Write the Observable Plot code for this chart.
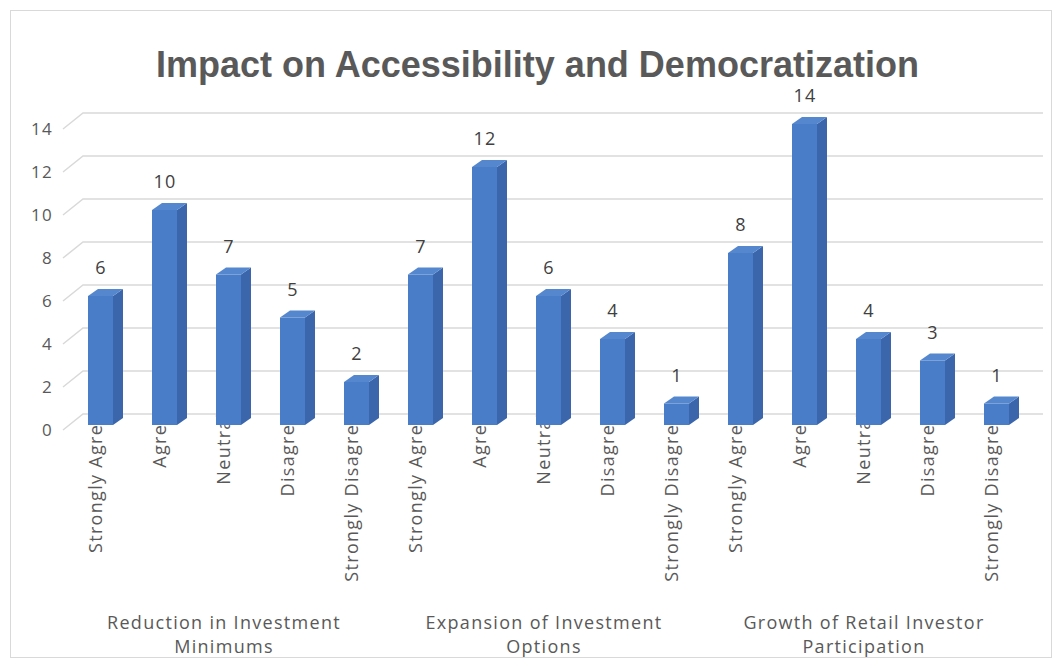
<!DOCTYPE html>
<html>
<head>
<meta charset="utf-8">
<script src="https://cdn.jsdelivr.net/npm/d3@7"></script>
<script src="https://cdn.jsdelivr.net/npm/@observablehq/plot@0.6"></script>
<style>
  html, body { margin: 0; padding: 0; background: #ffffff; }
  #wrap { position: relative; width: 1057px; height: 666px; overflow: hidden; background: #fff; }
  #frame { position: absolute; left: 10px; top: 10px; width: 1042px; height: 648px; border: 1px solid #d9d9d9; box-sizing: border-box; pointer-events: none; }
  #title { position: relative; box-sizing: border-box; height: 92px; padding-top: 47px; padding-left: 18px; text-align: center;
           font-family: "Liberation Sans", Arial, sans-serif; font-weight: bold; font-size: 36px; line-height: 36px; color: #595959; white-space: nowrap; }
  #chart svg { display: block; overflow: visible; }
  #chart svg text { letter-spacing: 1.3px; }
</style>
</head>
<body>
<div id="wrap">
  <div id="frame"></div>
  <div id="title">Impact on Accessibility and Democratization</div>
  <div id="chart"></div>
</div>
<script>
// ---- data ----
const groupNames = ["Reduction in Investment\nMinimums", "Expansion of Investment\nOptions", "Growth of Retail Investor\nParticipation"];
const responses = ["Strongly Agree", "Agree", "Neutral", "Disagree", "Strongly Disagree"];
const reductionValues = [6, 10, 7, 5, 2];
const expansionValues = [7, 12, 6, 4, 1];
const growthValues = [8, 14, 4, 3, 1];
const yTicks = [0, 2, 4, 6, 8, 10, 12, 14];

// ---- table built from arrays ----
const seriesByGroup = [reductionValues, expansionValues, growthValues];
const rows = [];
groupNames.forEach((g, gi) => {
  responses.forEach((r, ri) => {
    rows.push({group: g, response: r, key: gi + "|" + r, value: seriesByGroup[gi][ri]});
  });
});
const keys = rows.map(d => d.key);
const groupRows = groupNames.map((g, gi) => ({group: g, key: gi + "|" + responses[2]}));

// ---- style constants ----
const FRONT = "#4a7dc8", SIDE = "#3b66ab", TOP = "#5587cf";
const BAR_DY = -5;          // front face offset (3D floor)
const DEPTH_X = 10, DEPTH_Y = 7;
const WALL_DX = 20, WALL_DY = 16;

function gridMark(index, scales, values, dimensions) {
  const g = d3.create("svg:g");
  const x0 = dimensions.marginLeft + 7.5;
  const x1 = dimensions.width - dimensions.marginRight + 2.5;
  for (const t of yTicks) {
    const y = scales.y(t);
    g.append("path")
      .attr("d", `M${x0},${y}L${x0 + WALL_DX},${y - WALL_DY}L${x1},${y - WALL_DY}`)
      .attr("fill", "none").attr("stroke", "#d9d9d9").attr("stroke-width", 1.5);
  }
  return g.node();
}

function extrusionMark(index, scales, values, dimensions) {
  const g = d3.create("svg:g");
  const bw = scales.x.bandwidth ? scales.x.bandwidth() : 25;
  for (const d of rows) {
    const xl = scales.x(d.key), xr = xl + bw;
    const yb = scales.y(0) + BAR_DY, yt = scales.y(d.value) + BAR_DY;
    g.append("path")
      .attr("d", `M${xr},${yb}L${xr + DEPTH_X},${yb - DEPTH_Y}L${xr + DEPTH_X},${yt - DEPTH_Y}L${xr},${yt}Z`)
      .attr("fill", SIDE);
    g.append("path")
      .attr("d", `M${xl},${yt}L${xl + DEPTH_X},${yt - DEPTH_Y}L${xr + DEPTH_X},${yt - DEPTH_Y}L${xr},${yt}Z`)
      .attr("fill", TOP);
  }
  return g.node();
}

const chart = Plot.plot({
  width: 1057,
  height: 574,
  marginLeft: 55.5,
  marginRight: 16.5,
  marginTop: 37,
  marginBottom: 236,
  style: {fontFamily: "'Open Sans', sans-serif", background: "transparent", overflow: "visible"},
  x: {domain: keys, paddingInner: 0.61, paddingOuter: 0.5, axis: null},
  y: {domain: [0, 14], axis: null},
  marks: [
    gridMark,
    // y tick labels
    Plot.text(yTicks, {y: d => d, text: d => String(d), frameAnchor: "left", textAnchor: "end", dx: -3, fontSize: 17, fill: "#595959"}),
    // rotated category labels (partly hidden behind bar bottoms)
    Plot.text(rows, {x: "key", y: () => 0, text: "response", rotate: -90, textAnchor: "end", dx: -5, dy: -18, fontSize: 18, fill: "#595959"}),
    // bars (front faces)
    Plot.barY(rows, {x: "key", y: "value", fill: FRONT, dy: BAR_DY}),
    extrusionMark,
    // value labels
    Plot.text(rows, {x: "key", y: "value", text: d => String(d.value), dy: -33, fontSize: 18, fill: "#404040"}),
    // group labels
    Plot.text(groupRows, {x: "key", y: () => 0, text: "group", lineAnchor: "top", lineHeight: 1.36, dx: -5, dy: 181, fontSize: 18, fill: "#595959"})
  ]
});
document.getElementById("chart").appendChild(chart);
</script>
</body>
</html>
